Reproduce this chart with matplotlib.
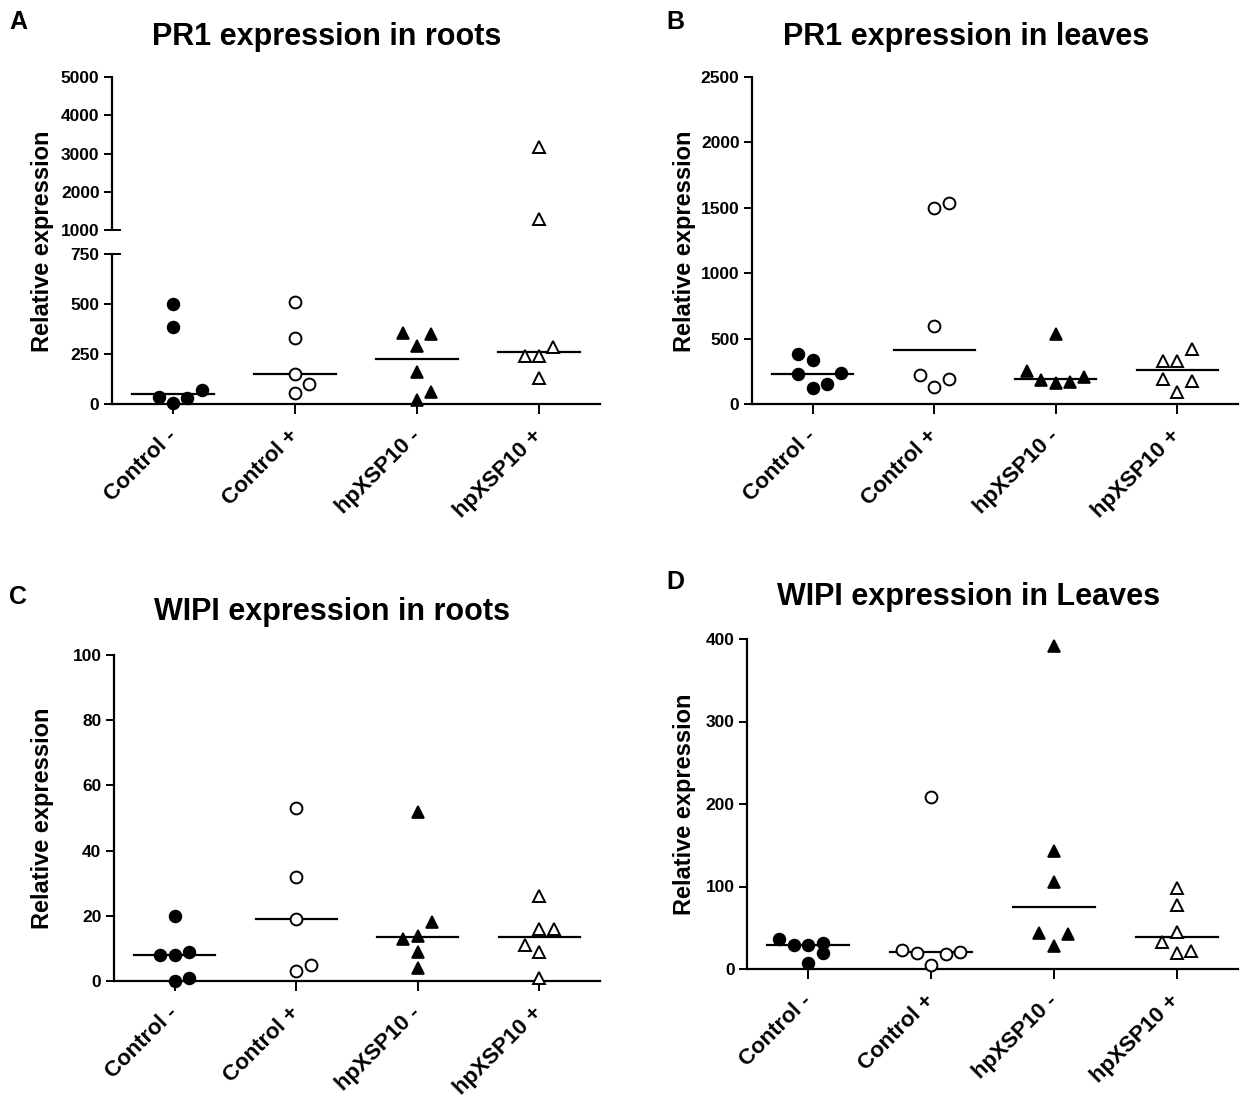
import matplotlib
matplotlib.use('Agg')
import matplotlib.pyplot as plt
import numpy as np

plt.rcParams['font.family'] = ['Liberation Sans', 'DejaVu Sans']
plt.rcParams['font.weight'] = 'bold'

# ---------------- data ----------------
groups = ['Control -', 'Control +', 'hpXSP10 -', 'hpXSP10 +']

# A: PR1 expression in roots
pr1_roots_ctrl_minus = [498, 387, 33, 3, 28, 70]
pr1_roots_ctrl_plus = [512, 328, 148, 100, 53]
pr1_roots_hp_minus = [356, 350, 290, 161, 58, 20]
pr1_roots_hp_plus = [3157, 1278, 283, 240, 240, 128]

# B: PR1 expression in leaves
pr1_leaves_ctrl_minus = [382, 336, 227, 234, 120, 153]
pr1_leaves_ctrl_plus = [1538, 1502, 598, 221, 188, 132]
pr1_leaves_hp_minus = [537, 251, 180, 157, 167, 205]
pr1_leaves_hp_plus = [417, 328, 328, 191, 178, 94]

# C: WIPI expression in roots
wipi_roots_ctrl_minus = [19.9, 8.0, 8.0, 9.0, 0.0, 0.9]
wipi_roots_ctrl_plus = [53.1, 31.9, 19.0, 5.0, 3.0]
wipi_roots_hp_minus = [51.8, 18.0, 13.8, 12.9, 9.0, 3.9]
wipi_roots_hp_plus = [26.0, 16.0, 16.0, 10.9, 8.9, 0.9]

# D: WIPI expression in Leaves
wipi_leaves_ctrl_minus = [36.4, 29.1, 28.7, 31.1, 19.0, 7.7]
wipi_leaves_ctrl_plus = [207.9, 23.0, 19.8, 17.8, 20.6, 4.4]
wipi_leaves_hp_minus = [391.9, 143.0, 105.8, 43.3, 42.1, 27.9]
wipi_leaves_hp_plus = [97.9, 77.7, 44.5, 32.4, 19.8, 21.8]

# ---------------- layout (horizontal dodge slots) ----------------
slots_A = [[0, 0, -1, 0, 1, 2], [0, 0, 0, 1, 0], [-1, 1, 0, 0, 1, 0], [0, 0, 1, -1, 0, 0]]
slots_B = [[-1, 0, -1, 2, 0, 1], [1, 0, 0, -1, 1, 0], [0, -2, -1, 0, 1, 2], [1, -1, 0, -1, 1, 0]]
slots_C = [[0, -1, 0, 1, 0, 1], [0, 0, 0, 1, 0], [0, 1, 0, -1, 0, 0], [0, 0, 1, -1, 0, 0]]
slots_D = [[-2, -1, 0, 1, 1, 0], [0, -2, -1, 1, 2, 0], [0, 0, 0, -1, 1, 0], [0, 0, 0, -1, 0, 1]]

SLOT = 0.118
HALF = 0.335
styles = [
    dict(marker='o', mfc='black', mec='black', ms=8.5, mew=1.2),
    dict(marker='o', mfc='white', mec='black', ms=8.5, mew=1.4),
    dict(marker='^', mfc='black', mec='black', ms=8.0, mew=1.2),
    dict(marker='^', mfc='white', mec='black', ms=8.0, mew=1.4),
]

W, H = 1240, 1100
fig = plt.figure(figsize=(W / 100, H / 100), dpi=100)


def rect(left, right, top, bottom):
    return [left / W, 1 - bottom / H, (right - left) / W, (bottom - top) / H]


def style_axis(ax, show_x=True):
    for s in ['top', 'right']:
        ax.spines[s].set_visible(False)
    for s in ['left', 'bottom']:
        ax.spines[s].set_linewidth(1.6)
    ax.tick_params(axis='y', length=6, width=1.4, pad=3, labelsize=12.5)
    ax.set_xlim(-0.5, 3.5)
    if show_x:
        ax.set_xticks(range(len(groups)))
        ax.set_xticklabels(groups, rotation=45, ha='right', va='center',
                           rotation_mode='anchor', fontsize=16, fontweight='bold')
        ax.tick_params(axis='x', length=7, width=1.4, pad=14)
    else:
        ax.spines['bottom'].set_visible(False)
        ax.set_xticks([])
    for lab in ax.get_yticklabels():
        lab.set_fontweight('bold')


def draw(ax, datasets, slots, lo=None, hi=None, medians=True):
    for i, (vals, sl) in enumerate(zip(datasets, slots)):
        vals = np.asarray(vals, dtype=float)
        xs = i + np.asarray(sl) * SLOT
        m = np.ones_like(vals, dtype=bool)
        if lo is not None:
            m &= vals >= lo
        if hi is not None:
            m &= vals <= hi
        ax.plot(xs[m], vals[m], ls='none', clip_on=False, zorder=3, **styles[i])
        if medians:
            med = np.median(vals)
            ax.plot([i - HALF, i + HALF], [med, med], color='black', lw=1.6,
                    clip_on=False, zorder=2)


# ---------------- Panel A (broken axis) ----------------
axA_up = fig.add_axes(rect(112, 600, 77, 230))
axA_lo = fig.add_axes(rect(112, 600, 254, 404))
dataA = [pr1_roots_ctrl_minus, pr1_roots_ctrl_plus, pr1_roots_hp_minus, pr1_roots_hp_plus]
draw(axA_lo, dataA, slots_A, hi=750)
draw(axA_up, dataA, slots_A, lo=1000, medians=False)
axA_up.set_ylim(1000, 5000)
axA_up.set_yticks([1000, 2000, 3000, 4000, 5000])
axA_lo.set_ylim(0, 750)
axA_lo.set_yticks([0, 250, 500, 750])
style_axis(axA_up, show_x=False)
style_axis(axA_lo)
wA = 488
axA_up.plot([0, 8 / wA], [0, 0], transform=axA_up.transAxes, color='black', lw=1.4, clip_on=False)
axA_lo.plot([0, 8 / wA], [1, 1], transform=axA_lo.transAxes, color='black', lw=1.4, clip_on=False)

# ---------------- Panel B ----------------
axB = fig.add_axes(rect(752, 1238, 77, 404))
draw(axB, [pr1_leaves_ctrl_minus, pr1_leaves_ctrl_plus, pr1_leaves_hp_minus, pr1_leaves_hp_plus], slots_B)
axB.set_ylim(0, 2500)
axB.set_yticks([0, 500, 1000, 1500, 2000, 2500])
style_axis(axB)

# ---------------- Panel C ----------------
axC = fig.add_axes(rect(114, 600, 655, 981))
draw(axC, [wipi_roots_ctrl_minus, wipi_roots_ctrl_plus, wipi_roots_hp_minus, wipi_roots_hp_plus], slots_C)
axC.set_ylim(0, 100)
axC.set_yticks([0, 20, 40, 60, 80, 100])
style_axis(axC)

# ---------------- Panel D ----------------
axD = fig.add_axes(rect(747, 1238, 639, 969))
draw(axD, [wipi_leaves_ctrl_minus, wipi_leaves_ctrl_plus, wipi_leaves_hp_minus, wipi_leaves_hp_plus], slots_D)
axD.set_ylim(0, 400)
axD.set_yticks([0, 100, 200, 300, 400])
style_axis(axD)

# ---------------- texts ----------------
def ftext(x, y, s, **kw):
    fig.text(x / W, 1 - y / H, s, **kw)

ftext(327, 37, 'PR1 expression in roots', ha='center', va='center', fontsize=22, fontweight='bold')
ftext(966, 37, 'PR1 expression in leaves', ha='center', va='center', fontsize=22, fontweight='bold')
ftext(332, 612, 'WIPI expression in roots', ha='center', va='center', fontsize=22, fontweight='bold')
ftext(969, 597, 'WIPI expression in Leaves', ha='center', va='center', fontsize=22, fontweight='bold')

for (x, y, s) in [(18, 22, 'A'), (675, 22, 'B'), (18, 597, 'C'), (675, 582, 'D')]:
    ftext(x, y, s, ha='center', va='center', fontsize=18, fontweight='bold')

for (x, y) in [(42, 241), (684, 241), (42, 818), (684, 804)]:
    ftext(x, y, 'Relative expression', ha='center', va='center', rotation=90,
          fontsize=17, fontweight='bold')

fig.savefig('out.png', dpi=100)
